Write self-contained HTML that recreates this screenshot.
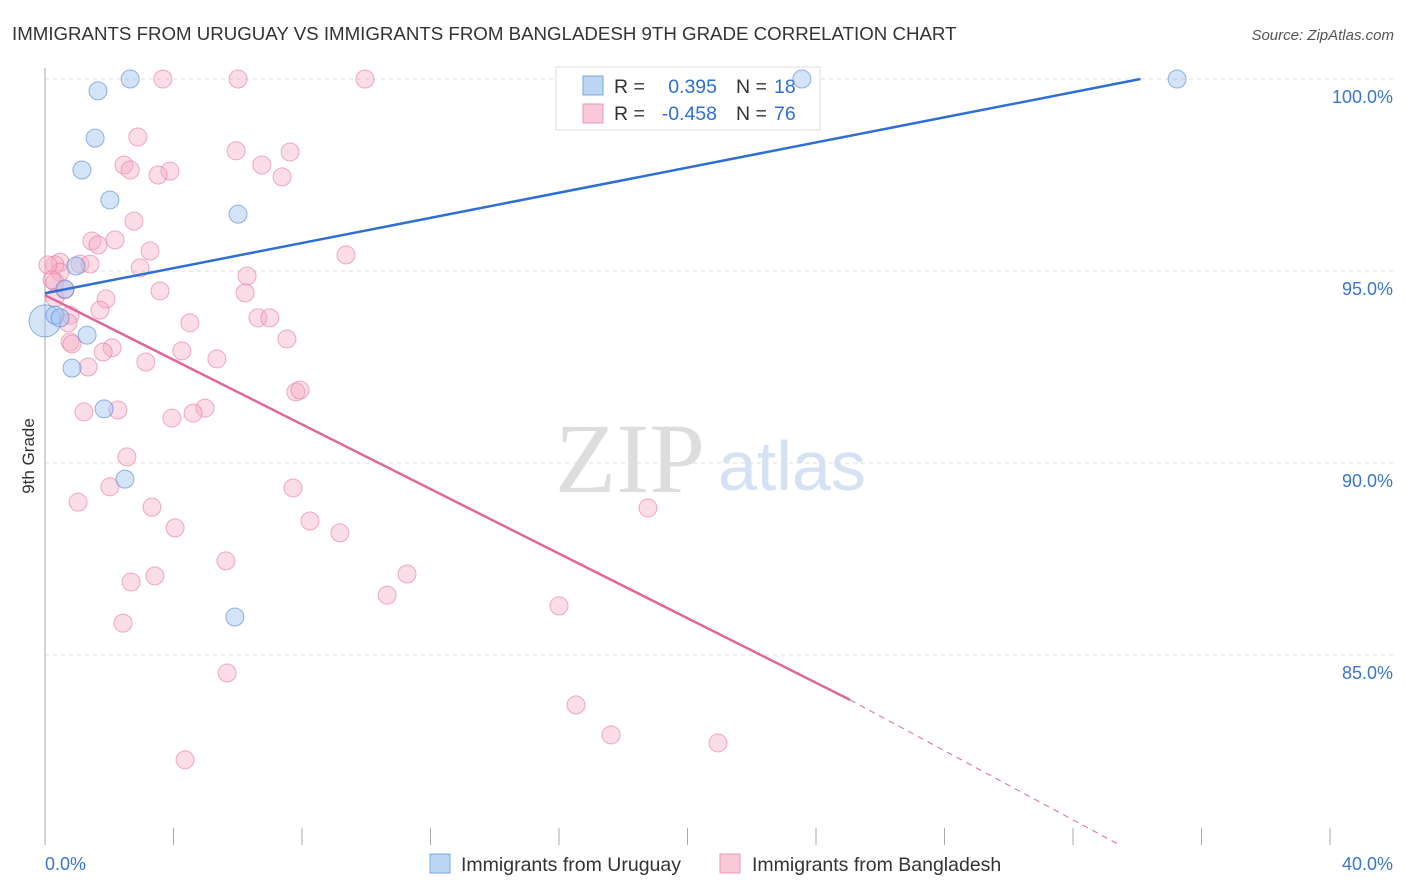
<!DOCTYPE html>
<html><head><meta charset="utf-8"><style>
body{margin:0;background:#fff;font-family:"Liberation Sans",sans-serif;}
svg{display:block}
</style></head><body>
<svg id="chart" width="1406" height="892" xmlns="http://www.w3.org/2000/svg">
<text x="12" y="40" font-size="18.7" fill="#333">IMMIGRANTS FROM URUGUAY VS IMMIGRANTS FROM BANGLADESH 9TH GRADE CORRELATION CHART</text>
<text x="1394" y="40" font-size="15" fill="#555" text-anchor="end" font-style="italic">Source: ZipAtlas.com</text>
<g>
<text x="555" y="492" font-size="100" fill="#ddd" font-family="Liberation Serif, serif">ZIP</text>
<text x="718" y="490" font-size="70" fill="#d4e2f4">atlas</text>
</g>
<g id="grid"></g>
<g id="axes"></g>
<g>
<rect x="556" y="67" width="264" height="63" fill="#fff" stroke="#ddd"/>
<rect x="583" y="76" width="20" height="19" fill="#bcd5f5" stroke="#7aa6e0"/>
<rect x="583" y="104" width="20" height="19" fill="#f9c9d7" stroke="#e89ab2"/>
<text x="614" y="93" font-size="19.5" fill="#333">R =</text>
<text x="717" y="93" font-size="19.5" fill="#2f6fcf" text-anchor="end">0.395</text>
<text x="736" y="93" font-size="19.5" fill="#333">N =</text>
<text x="774" y="93" font-size="19.5" fill="#2f6fcf">18</text>
<text x="614" y="120" font-size="19.5" fill="#333">R =</text>
<text x="717" y="120" font-size="19.5" fill="#2f6fcf" text-anchor="end">-0.458</text>
<text x="736" y="120" font-size="19.5" fill="#333">N =</text>
<text x="774" y="120" font-size="19.5" fill="#2f6fcf">76</text>
</g>
<g id="marks"></g>
<g id="lines"></g>
<text transform="translate(34,456) rotate(-90)" font-size="17" fill="#333" text-anchor="middle">9th Grade</text>
<g>
<rect x="430" y="854" width="20" height="19" fill="#bcd5f5" stroke="#7aa6e0"/>
<text x="461" y="871" font-size="19.5" fill="#333">Immigrants from Uruguay</text>
<rect x="720" y="854" width="20" height="19" fill="#f9c9d7" stroke="#e89ab2"/>
<text x="752" y="871" font-size="19.5" fill="#333">Immigrants from Bangladesh</text>
</g>
</svg>
<script>
const blueData=[[2.65,100],[1.65,99.69],[1.56,98.46],[1.15,97.63],[2.02,96.85],[6.01,96.48],[0.96,95.13],[0.62,94.53],[0,93.7],[0.31,93.85],[0.47,93.78],[1.31,93.33],[0.84,92.47],[1.84,91.41],[2.49,89.58],[5.91,85.99],[23.56,100],[35.24,100]];
const pinkData=[[3.67,100],[6.01,100],[9.96,100],[2.89,98.49],[5.95,98.13],[7.63,98.10],[2.46,97.76],[6.75,97.76],[2.65,97.63],[3.89,97.60],[3.52,97.50],[7.38,97.45],[2.77,96.30],[1.46,95.78],[2.18,95.81],[1.65,95.68],[3.27,95.52],[9.37,95.42],[0.47,95.23],[1.09,95.18],[0.31,95.16],[1.40,95.18],[2.96,95.08],[0.47,94.97],[6.29,94.87],[0.31,94.71],[3.58,94.48],[6.23,94.43],[0.31,94.30],[1.90,94.27],[1.71,93.98],[0.78,93.85],[6.63,93.78],[7.00,93.78],[4.51,93.65],[0.72,93.65],[7.53,93.23],[0.78,93.15],[0.84,93.10],[2.09,93.00],[1.81,92.89],[4.26,92.92],[5.35,92.71],[3.14,92.63],[1.34,92.50],[7.81,91.85],[7.94,91.90],[1.21,91.33],[2.27,91.38],[4.98,91.43],[4.61,91.30],[3.95,91.17],[2.55,90.16],[2.02,89.38],[7.72,89.35],[1.03,88.98],[3.33,88.85],[18.77,88.83],[8.25,88.49],[4.05,88.31],[9.18,88.18],[5.63,87.45],[11.27,87.11],[3.42,87.06],[2.68,86.90],[10.65,86.56],[16.00,86.28],[2.43,85.83],[5.67,84.53],[16.53,83.70],[17.62,82.92],[20.95,82.71],[4.36,82.27],[0.09,95.16],[0.22,94.77],[0.62,94.51]];
const yTicks=[100,95,90,85];
const yTickLabels=["100.0%","95.0%","90.0%","85.0%"];
const xTicks=[0,4,8,12,16,20,24,28,32,36,40];
const blueTrend=[[0,94.42],[34.1,100]];
const pinkTrendSolid=[[0,94.37],[25.06,83.83]];
const pinkTrendDash=[[25.06,83.83],[33.46,80.05]];

const NS="http://www.w3.org/2000/svg";
const X=v=>45+v*32.125;
const Y=v=>79+(100-v)*38.4;
function mk(tag,attrs,parent){const e=document.createElementNS(NS,tag);for(const k in attrs)e.setAttribute(k,attrs[k]);document.getElementById(parent).appendChild(e);return e;}
yTicks.forEach((t,i)=>{
 const g=mk('line',{x1:45,x2:1394,y1:Y(t),y2:Y(t),stroke:'#ddd','stroke-dasharray':'4,4'},'grid');
 
 
 const l=mk('text',{x:1393,y:Y(t)+24,'font-size':18,fill:'#3a76cf','text-anchor':'end'},'grid');
 l.textContent=yTickLabels[i];
 
 
});
const ax=mk('line',{x1:45,x2:45,y1:68,y2:845,stroke:'#aaa'},'axes');


xTicks.forEach(t=>{
 const k=mk('line',{x1:X(t),x2:X(t),y1:828,y2:845,stroke:'#aaa'},'axes');
 
 
});
const xl0=mk('text',{x:45,y:870,'font-size':18,fill:'#3a76cf'},'axes');xl0.textContent='0.0%';


const xl1=mk('text',{x:1393,y:870,'font-size':18,fill:'#3a76cf','text-anchor':'end'},'axes');xl1.textContent='40.0%';


pinkData.forEach(d=>{
 const c=mk('circle',{cx:X(d[0]),cy:Y(d[1]),r:9,fill:'rgba(246,170,195,0.4)',stroke:'rgba(230,120,155,0.6)'},'marks');
 
 
});
blueData.forEach((d,i)=>{
 const c=mk('circle',{cx:X(d[0]),cy:Y(d[1]),r:i==8?16:9,fill:'rgba(160,195,240,0.45)',stroke:'rgba(80,130,210,0.6)'},'marks');
 
 
});
function ln(p,col,dash,name){const l=mk('line',{x1:X(p[0][0]),y1:Y(p[0][1]),x2:X(p[1][0]),y2:Y(p[1][1]),stroke:col,'stroke-width':dash?1:2.5},'lines');if(dash)l.setAttribute('stroke-dasharray','6,5');
 
 }
ln(blueTrend,'#2d6fd2',false,'uruguay-trendline');
ln(pinkTrendSolid,'#e0679a',false,'bangladesh-trendline');
ln(pinkTrendDash,'#e0679a',true,'bangladesh-trendline-extension');
</script>
</body></html>
